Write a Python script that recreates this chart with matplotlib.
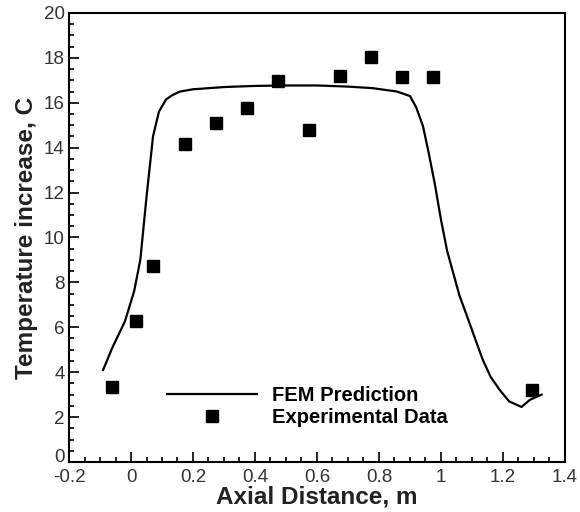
import matplotlib.pyplot as plt
from matplotlib.ticker import MultipleLocator

plt.rcParams['font.family'] = ['Liberation Sans', 'DejaVu Sans']

# FEM prediction curve
fem_x = [-0.09, -0.06, -0.02, 0.01, 0.03, 0.05, 0.071, 0.09, 0.113, 0.135, 0.158, 0.2,
         0.3, 0.4, 0.5, 0.6, 0.7, 0.78, 0.858, 0.9, 0.92, 0.942, 0.96, 0.98, 1.0,
         1.02, 1.04, 1.06, 1.084, 1.11, 1.135, 1.16, 1.19, 1.22, 1.26, 1.287, 1.325]
fem_y = [4.1, 5.1, 6.25, 7.6, 9.0, 11.8, 14.5, 15.6, 16.15, 16.35, 16.5, 16.6,
         16.7, 16.75, 16.77, 16.77, 16.72, 16.65, 16.5, 16.3, 15.8, 14.96, 13.8, 12.4, 10.8,
         9.4, 8.4, 7.4, 6.5, 5.5, 4.55, 3.8, 3.2, 2.7, 2.45, 2.77, 3.0]

# Experimental data
exp_x = [-0.061, 0.016, 0.071, 0.174, 0.274, 0.374, 0.474, 0.574, 0.674, 0.774, 0.874, 0.974, 1.294]
exp_y = [3.35, 6.3, 8.75, 14.15, 15.1, 15.75, 16.95, 14.8, 17.2, 18.05, 17.15, 17.15, 3.2]

xticks = [-0.2, 0, 0.2, 0.4, 0.6, 0.8, 1.0, 1.2, 1.4]
xlabels = ['-0.2', '0', '0.2', '0.4', '0.6', '0.8', '1', '1.2', '1.4']
yticks = [0, 2, 4, 6, 8, 10, 12, 14, 16, 18, 20]

fig = plt.figure(figsize=(5.8, 5.12), dpi=100)
ax = fig.add_axes([0.119, 0.0977, 0.855, 0.877])

ax.plot(fem_x, fem_y, color='black', lw=1.6, label='FEM Prediction')
ax.plot(exp_x, exp_y, 's', color='black', ms=8, label='Experimental Data')

ax.set_xlim(-0.2, 1.4)
ax.set_ylim(0, 20)
ax.set_xticks(xticks)
ax.set_xticklabels(xlabels)
ax.set_yticks(yticks)
# the "0" on y is drawn separately, a bit higher, so it clears "-0.2"
ax.set_yticklabels([''] + [str(v) for v in yticks[1:]])
ax.xaxis.set_minor_locator(MultipleLocator(0.05))
ax.yaxis.set_minor_locator(MultipleLocator(0.5))

ax.tick_params(which='both', direction='in', top=False, right=False,
               labelsize=13.5, labelcolor='#333333', width=1.2)
ax.tick_params(axis='x', which='major', length=7, pad=5)
ax.tick_params(axis='y', which='major', length=7, pad=3)
ax.tick_params(which='minor', length=3.5)
for s in ax.spines.values():
    s.set_linewidth(1.5)

ax.annotate('0', xy=(0, 0), xycoords='axes fraction', xytext=(-3, 3),
            textcoords='offset points', ha='right', va='center',
            fontsize=13.5, color='#333333')

ax.set_xlabel('Axial Distance, m', fontsize=17.5, fontweight='bold', color='#222222', labelpad=0)
ax.set_ylabel('Temperature increase, C', fontsize=17.5, fontweight='bold', color='#222222', labelpad=4)

ax.legend(loc='center left', bbox_to_anchor=(0.198, 0.1225), frameon=False,
          borderpad=0, borderaxespad=0, handlelength=4.45, handletextpad=0.73,
          labelspacing=0.15, prop={'weight': 'bold', 'size': 14.5})

plt.savefig('out.png', dpi=100)
